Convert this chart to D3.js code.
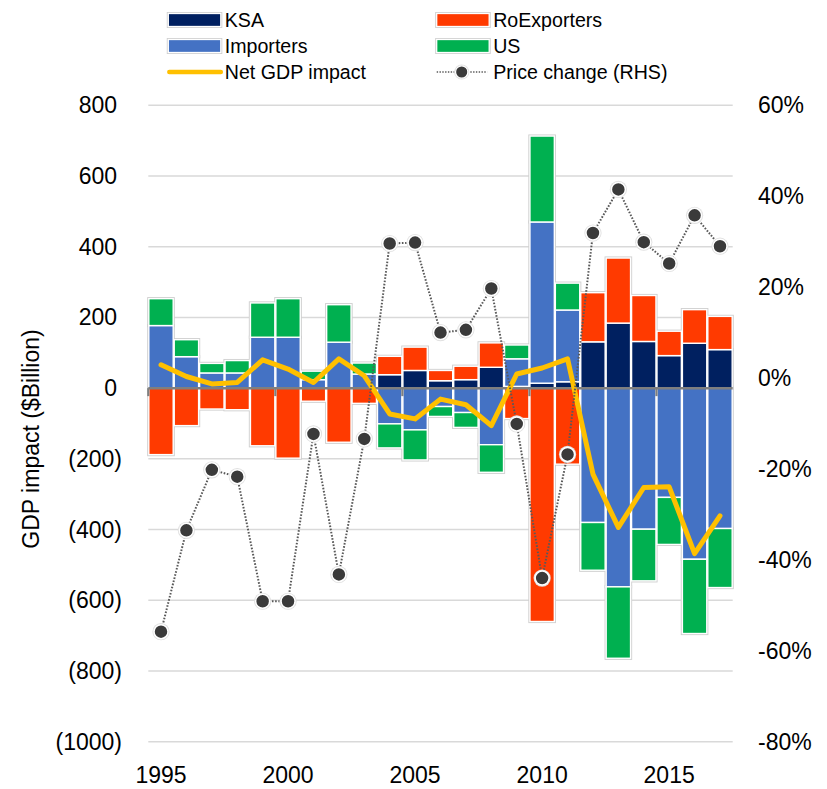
<!DOCTYPE html>
<html>
<head>
<meta charset="utf-8">
<script src="https://cdn.jsdelivr.net/npm/d3@7"></script>
<style>
  html, body { margin: 0; padding: 0; background: #fff; }
  svg { display: block; }
  text { font-family: "Liberation Sans", Arial, sans-serif; fill: #000; }
</style>
</head>
<body>
<svg id="chart" width="827" height="789"></svg>
<script>
// Oil price shock: GDP impact by group ($bn, stacked) and oil price change (RHS)
const years = [1995, 1996, 1997, 1998, 1999, 2000, 2001, 2002, 2003, 2004, 2005, 2006,
               2007, 2008, 2009, 2010, 2011, 2012, 2013, 2014, 2015, 2016, 2017];
const ksa         = [0, 0, 0, 0, 0, 0, 0, 0, 0, 38, 50, 21, 24, 59, 5, 14, 18, 131, 184, 132, 92, 127, 109];
const roExporters = [-188, -106, -59, -61, -163, -198, -37, -153, -43, 52, 66, 29, 38, 69, -86, -660, -215, 139, 184, 130, 69, 95, 94];
const importers   = [177, 89, 43, 43, 144, 144, 24, 130, 40, -101, -118, -52, -69, -160, 78, 456, 203, -380, -562, -399, -309, -484, -397];
const us          = [76, 48, 27, 35, 97, 109, 24, 106, 31, -68, -85, -28, -42, -78, 39, 243, 76, -135, -202, -146, -133, -210, -167];
const netImpact   = [66, 33, 12, 16, 80, 54, 16, 83, 35, -73, -87, -31, -47, -106, 40, 57, 83, -243, -394, -281, -279, -468, -361];
const priceChange = [-0.558, -0.335, -0.202, -0.217, -0.491, -0.491, -0.123, -0.432, -0.134, 0.296, 0.298, 0.100,
                     0.106, 0.197, -0.101, -0.440, -0.168, 0.319, 0.415, 0.299, 0.252, 0.358, 0.290];

const seriesKeys   = ["KSA", "RoExporters", "Importers", "US"];
const seriesColors = { KSA: "#002060", RoExporters: "#FF3A00", Importers: "#4472C4", US: "#00B050" };
const leftTicks  = [800, 600, 400, 200, 0, -200, -400, -600, -800, -1000];
const rightTicks = [0.6, 0.4, 0.2, 0, -0.2, -0.4, -0.6, -0.8];
const xLabelYears = [1995, 2000, 2005, 2010, 2015];

const rows = years.map((y, i) => ({
  year: y, KSA: ksa[i], RoExporters: roExporters[i], Importers: importers[i], US: us[i]
}));

const svg = d3.select("#chart");
const plot = { left: 148.3, right: 732.7, top: 105.3, bottom: 741.7 };

const x = d3.scaleBand().domain(years).range([plot.left, plot.right]).paddingInner(0.04).paddingOuter(0.02);
const y = d3.scaleLinear().domain([-1000, 800]).range([plot.bottom, plot.top]);
const y2 = d3.scaleLinear().domain([-0.8, 0.6]).range([plot.bottom, plot.top]);

// horizontal gridlines
svg.append("g").selectAll("line").data(leftTicks.filter(d => d !== 0)).join("line")
  .attr("x1", plot.left).attr("x2", plot.right)
  .attr("y1", d => y(d)).attr("y2", d => y(d))
  .attr("stroke", "#d9d9d9").attr("stroke-width", 1.5);

// stacked bars (positive up, negative down)
const stacked = d3.stack().keys(seriesKeys).offset(d3.stackOffsetDiverging)(rows);
const segs = [];
stacked.forEach(layer => layer.forEach(d => {
  if (d[1] !== d[0]) segs.push({ key: layer.key, year: d.data.year, y0: d[0], y1: d[1] });
}));
const barG = svg.append("g");
barG.selectAll("rect.halo").data(segs).join("rect").attr("class", "halo")
  .attr("x", d => x(d.year)).attr("width", x.bandwidth())
  .attr("y", d => y(Math.max(d.y0, d.y1))).attr("height", d => Math.abs(y(d.y0) - y(d.y1)))
  .attr("fill", "none").attr("stroke", "#cfcfcf").attr("stroke-width", 3.2);
barG.selectAll("rect.seg").data(segs).join("rect").attr("class", "seg")
  .attr("x", d => x(d.year)).attr("width", x.bandwidth())
  .attr("y", d => y(Math.max(d.y0, d.y1))).attr("height", d => Math.abs(y(d.y0) - y(d.y1)))
  .attr("fill", d => seriesColors[d.key]).attr("stroke", "#fff").attr("stroke-width", 1.4);

// zero axis line with category tick marks every five years
const step = x.step();
const axisG = svg.append("g");
axisG.append("line")
  .attr("x1", plot.left).attr("x2", plot.right).attr("y1", y(0)).attr("y2", y(0))
  .attr("stroke", "#7f7f7f").attr("stroke-width", 2.5);
axisG.selectAll("line.tick").data(xLabelYears).join("line").attr("class", "tick")
  .attr("x1", d => x(d) - (step - x.bandwidth()) / 2).attr("x2", d => x(d) - (step - x.bandwidth()) / 2)
  .attr("y1", y(0)).attr("y2", y(0) + 8)
  .attr("stroke", "#7f7f7f").attr("stroke-width", 2.2);

const cx = d => x(d) + x.bandwidth() / 2;

// net GDP impact line
svg.append("path").datum(years.map((yr, i) => [cx(yr), y(netImpact[i])]))
  .attr("d", d3.line())
  .attr("fill", "none").attr("stroke", "#FFC000").attr("stroke-width", 5)
  .attr("stroke-linejoin", "round").attr("stroke-linecap", "round");

// price change (right axis): dotted line with markers
svg.append("path").datum(years.map((yr, i) => [cx(yr), y2(priceChange[i])]))
  .attr("d", d3.line())
  .attr("fill", "none").attr("stroke", "#595959").attr("stroke-width", 2)
  .attr("stroke-dasharray", "1.6,1.6");
const mk = svg.append("g").selectAll("g").data(years).join("g")
  .attr("transform", (yr, i) => `translate(${cx(yr)},${y2(priceChange[i])})`);
mk.append("circle").attr("r", 8.6).attr("fill", "#e0e0e0");
mk.append("circle").attr("r", 7).attr("fill", "#3a3a3a").attr("stroke", "#fff").attr("stroke-width", 1.5);

// left axis labels
const fmtLeft = v => v < 0 ? `(${Math.abs(v)})` : `${v}`;
svg.append("g").selectAll("text").data(leftTicks).join("text")
  .attr("x", d => d < 0 ? 122 : 117).attr("y", d => y(d)).attr("dy", "0.35em")
  .attr("text-anchor", "end").attr("font-size", 23)
  .text(fmtLeft);

// right axis labels
svg.append("g").selectAll("text").data(rightTicks).join("text")
  .attr("x", 758).attr("y", d => y2(d)).attr("dy", "0.35em")
  .attr("text-anchor", "start").attr("font-size", 23)
  .text(d => `${Math.round(d * 100)}%`);

// category labels
svg.append("g").selectAll("text").data(xLabelYears).join("text")
  .attr("x", d => cx(d)).attr("y", 775).attr("dy", "0.35em")
  .attr("text-anchor", "middle").attr("font-size", 23)
  .text(d => d);

// y-axis title
svg.append("text")
  .attr("transform", "translate(31,439) rotate(-90)")
  .attr("dy", "0.35em").attr("text-anchor", "middle").attr("font-size", 23)
  .text("GDP impact ($Billion)");

// legend
const legendItems = [
  { label: "KSA", type: "box", color: seriesColors.KSA, col: 0, row: 0 },
  { label: "RoExporters", type: "box", color: seriesColors.RoExporters, col: 1, row: 0 },
  { label: "Importers", type: "box", color: seriesColors.Importers, col: 0, row: 1 },
  { label: "US", type: "box", color: seriesColors.US, col: 1, row: 1 },
  { label: "Net GDP impact", type: "line", color: "#FFC000", col: 0, row: 2 },
  { label: "Price change (RHS)", type: "marker", color: "#3a3a3a", col: 1, row: 2 }
];
const colX = [168.3, 436.7], swW = 52.5, rowY = [20, 46, 72];
const lg = svg.append("g").selectAll("g").data(legendItems).join("g")
  .attr("transform", d => `translate(${colX[d.col]},${rowY[d.row]})`);
lg.filter(d => d.type === "box").each(function (d) {
  const g = d3.select(this);
  g.append("rect").attr("x", 0).attr("y", -6.5).attr("width", swW).attr("height", 13)
    .attr("fill", "none").attr("stroke", "#cfcfcf").attr("stroke-width", 3);
  g.append("rect").attr("x", 0).attr("y", -6.5).attr("width", swW).attr("height", 13)
    .attr("fill", d.color).attr("stroke", "#fff").attr("stroke-width", 1.3);
});
lg.filter(d => d.type === "line").append("line")
  .attr("x1", 1).attr("x2", swW).attr("y1", 0).attr("y2", 0)
  .attr("stroke", d => d.color).attr("stroke-width", 4.5).attr("stroke-linecap", "round");
lg.filter(d => d.type === "marker").each(function (d) {
  const g = d3.select(this);
  g.append("line").attr("x1", 0).attr("x2", swW - 2).attr("y1", 0).attr("y2", 0)
    .attr("stroke", "#595959").attr("stroke-width", 1.6).attr("stroke-dasharray", "1.4,1.4");
  g.append("circle").attr("cx", 25).attr("r", 7.6).attr("fill", "#e0e0e0");
  g.append("circle").attr("cx", 25).attr("r", 6.2).attr("fill", d.color).attr("stroke", "#fff").attr("stroke-width", 1.3);
});
lg.append("text").attr("x", swW + 4).attr("y", 0).attr("dy", "0.35em")
  .attr("font-size", 19.6).text(d => d.label);
</script>
</body>
</html>
